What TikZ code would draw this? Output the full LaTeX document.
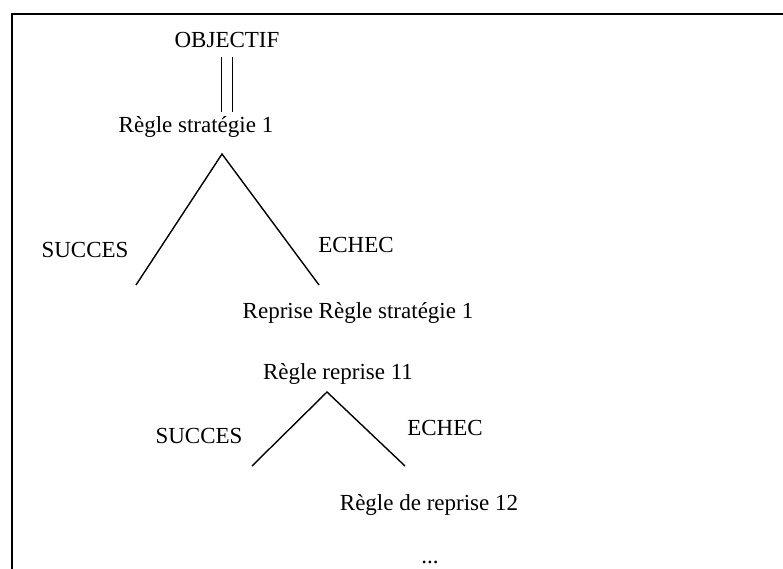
\documentclass[tikz,border=0pt]{standalone}
\usepackage{fontspec}
\setmainfont{Liberation Serif}
\begin{document}
\begin{tikzpicture}[x=1pt,y=-1pt,
	txt/.style={inner sep=0pt,anchor=base,font=\fontsize{23}{26}\selectfont},
	leg/.style={line width=1.4pt}]
	\useasboundingbox (0,0) rectangle (783,569);
	% cadre
	\coordinate (cadre) at (12,14);
	\draw[line width=1.6pt] (cadre -| 783,0) -- (cadre) -- (cadre |- 0,569);
	\node[txt] (obj) at (227,48) {OBJECTIF};
	\node[txt] (rs1) at (196,133) {Règle stratégie 1};
	\coordinate (H) at (227,57);
	\coordinate (B) at (227,112);
	\draw[line width=1.1pt] ([xshift=-5.5pt]H) -- ([xshift=-5.5pt]B);
	\draw[line width=1.1pt] ([xshift=5.5pt]H) -- ([xshift=5.5pt]B);
	% premier arbre
	\coordinate (A1) at (222,154);
	\coordinate (G1) at (136,285);
	\coordinate (D1) at (319,285);
	\draw[leg] (G1) -- (A1) -- (D1);
	\node[txt] (succ1) at (85,257) {SUCCES};
	\node[txt] (ech1) at (356,252) {ECHEC};
	\node[txt] (rep1) at (358,318) {Reprise Règle stratégie 1};
	% second arbre
	\node[txt] (rr11) at (338,379) {Règle reprise 11};
	\coordinate (A2) at (327,392);
	\coordinate (G2) at (252,466);
	\coordinate (D2) at (405,466);
	\draw[leg] (G2) -- (A2) -- (D2);
	\node[txt] (succ2) at (199,443) {SUCCES};
	\node[txt] (ech2) at (445,435) {ECHEC};
	\node[txt] (rr12) at (429,510) {Règle de reprise 12};
	\node[txt] (dots) at (430,563) {...};
\end{tikzpicture}
\end{document}
